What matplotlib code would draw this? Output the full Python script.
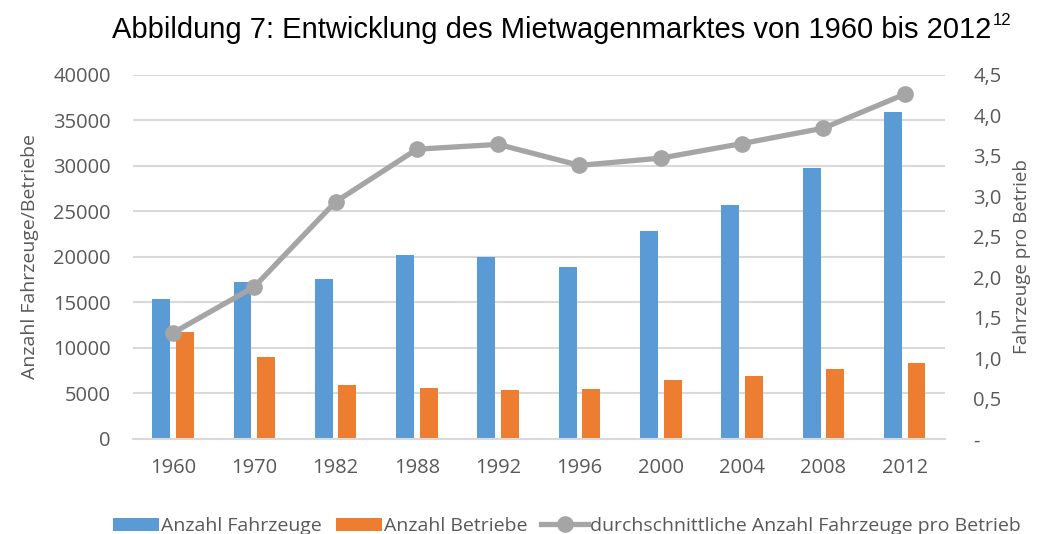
import numpy as np
import matplotlib
matplotlib.use("Agg")
import matplotlib.pyplot as plt

years = ["1960", "1970", "1982", "1988", "1992", "1996", "2000", "2004", "2008", "2012"]
fahrzeuge = [15400, 17200, 17600, 20200, 20000, 18900, 22800, 25700, 29800, 35900]
betriebe = [11700, 9050, 5950, 5550, 5400, 5500, 6500, 6950, 7650, 8300]
pro_betrieb = [1.31, 1.88, 2.93, 3.58, 3.64, 3.38, 3.47, 3.65, 3.84, 4.26]

plt.rcParams['font.family'] = ['Open Sans', 'DejaVu Sans']
txt = '#595959'

fig = plt.figure(figsize=(10.4, 5.34), dpi=100)
ax = fig.add_axes([0.128, 0.178, 0.781, 0.682])
ax2 = ax.twinx()

x = np.arange(len(years))
w = 0.22
ax.bar(x - 0.145, fahrzeuge, w, color='#5b9bd5', label='Anzahl Fahrzeuge', zorder=2)
ax.bar(x + 0.145, betriebe, w, color='#ed7d31', label='Anzahl Betriebe', zorder=2)
ax2.plot(x, pro_betrieb, color='#a5a5a5', lw=3.8, marker='o', ms=11,
         label='durchschnittliche Anzahl Fahrzeuge pro Betrieb', zorder=3)

ax.set_ylim(0, 40000)
ax.set_yticks(range(0, 40001, 5000))
ax2.set_ylim(0, 4.5)
ax2.set_yticks(np.arange(0, 4.51, 0.5))
ax2.set_yticklabels(['-'] + [f"{v:.1f}".replace('.', ',') for v in np.arange(0.5, 4.51, 0.5)])
ax.set_xlim(-0.49, len(years) - 0.5)
ax.set_xticks(x)
ax.set_xticklabels(years)

ax.grid(axis='y', color='#d9d9d9', lw=1.5, zorder=0)
ax.set_axisbelow(True)
for a in (ax, ax2):
    for s in a.spines.values():
        s.set_visible(False)
    a.tick_params(length=0, labelsize=14.5, colors=txt)
ax.tick_params(axis='y', pad=16)
ax2.tick_params(axis='y', pad=20)
ax.spines['bottom'].set_visible(True)
ax.spines['bottom'].set_color('#d9d9d9')
ax.spines['bottom'].set_linewidth(1.5)
ax.tick_params(axis='x', pad=14)

ax.set_ylabel('Anzahl Fahrzeuge/Betriebe', fontsize=14, color=txt, labelpad=10)
ax2.set_ylabel('Fahrzeuge pro Betrieb', fontsize=13.5, color=txt, rotation=90, labelpad=8)

h1, l1 = ax.get_legend_handles_labels()
h2, l2 = ax2.get_legend_handles_labels()
fig.legend(h1 + h2, l1 + l2, loc='lower center', bbox_to_anchor=(0.545, -0.035), ncol=3,
           frameon=False, fontsize=14, labelcolor=txt, handlelength=2.4,
           handletextpad=0.1, columnspacing=0.7)

t = fig.text(0.108, 0.944, 'Abbildung 7: Entwicklung des Mietwagenmarktes von 1960 bis 2012',
             fontsize=21, family='Liberation Sans', va='center', ha='left')
fig.canvas.draw()
bb = t.get_window_extent()
fig.text(bb.x1 / fig.bbox.width + 0.001, 0.962, '12', fontsize=12,
         family='Liberation Sans', va='center', ha='left')

fig.savefig('out.png', dpi=100)
